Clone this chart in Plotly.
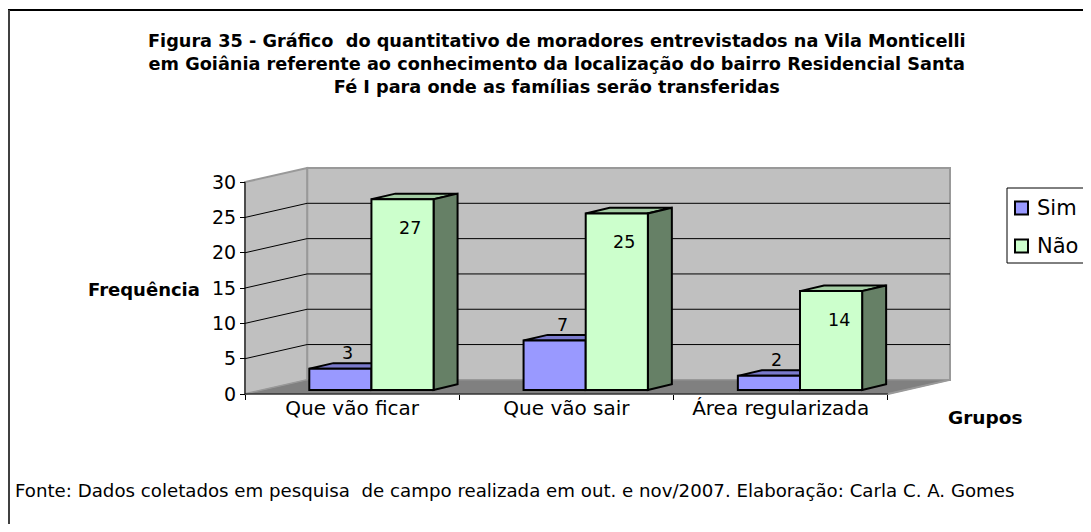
"""
Figura 35 - conhecimento da localização do Residencial Santa Fé I (gráfico de barras 3D)
"""
import plotly.graph_objects as go

# data
groups = ["Que vão ficar", "Que vão sair", "Área regularizada"]
series = ["Sim", "Não"]
sim = [3, 7, 2]
nao = [27, 25, 14]
y_ticks = [0, 5, 10, 15, 20, 25, 30]

# page pixels (the browser adds an 8px body margin around the figure)
OFF = 8
W, H = 1091 - 2 * OFF, 532 - 2 * OFF
PL, PR, PT, PB = 241, 954, 164, 398
PW, PH = PR - PL, PB - PT

# fake 3D: depth of the walls and of the bars
DX, DY = 0.29, 2.0          # wall depth (category units, value units)
YMAX = 30
BASE = 0.57                 # bars stand a little inside the floor
BDX, BDY = 0.112, 0.8       # bar depth
X0, X1 = -0.5, len(groups) - 0.5
PADX, PADY = 4 / 214.3, 4 / 7.0625

XR = [X0 - PADX, X1 + DX + PADX]
YR = [-PADY, YMAX + DY + PADY]

FONT = "DejaVu Sans, Liberation Sans, Arial, sans-serif"
WALL = "#C0C0C0"
FLOOR = "#808080"
EDGE = "#999999"
COLORS = {"Sim": "#9999FF", "Não": "#CCFFCC"}


def px(x):
    return (x - PL) / PW


def py(y):
    return (PB - y) / PH


def poly(pts):
    return "M " + " L ".join(f"{x},{y}" for x, y in pts) + " Z"


shapes = []
# back wall, side wall, floor
shapes.append(dict(type="path", layer="below", fillcolor=WALL, line=dict(color=EDGE, width=2),
                   path=poly([(X0 + DX, DY), (X1 + DX, DY), (X1 + DX, YMAX + DY), (X0 + DX, YMAX + DY)])))
shapes.append(dict(type="path", layer="below", fillcolor=WALL, line=dict(color=EDGE, width=2),
                   path=poly([(X0, 0), (X0 + DX, DY), (X0 + DX, YMAX + DY), (X0, YMAX)])))
shapes.append(dict(type="path", layer="below", fillcolor=FLOOR, line=dict(color=EDGE, width=1),
                   path=poly([(X0, 0), (X1, 0), (X1 + DX, DY), (X0 + DX, DY)])))

# gridlines on side and back wall
for v in y_ticks[1:-1]:
    shapes.append(dict(type="line", layer="below", x0=X0, y0=v, x1=X0 + DX, y1=v + DY,
                       line=dict(color="black", width=1)))
    shapes.append(dict(type="line", layer="below", x0=X0 + DX, y0=v + DY, x1=X1 + DX, y1=v + DY,
                       line=dict(color="black", width=1)))


def bar_faces(values, offset, width, top_col, side_col):
    out = []
    for i, v in enumerate(values):
        a = i + offset
        b = a + width
        t = BASE + v
        out.append(dict(type="path", layer="below", fillcolor=top_col, line=dict(color="black", width=2),
                        path=poly([(a, t), (b, t), (b + BDX, t + BDY), (a + BDX, t + BDY)])))
        out.append(dict(type="path", layer="below", fillcolor=side_col, line=dict(color="black", width=2),
                        path=poly([(b, BASE), (b + BDX, BASE + BDY), (b + BDX, t + BDY), (b, t)])))
    return out


SIM_OFF, NAO_OFF, BW = -0.2, 0.09, 0.29
shapes += bar_faces(sim, SIM_OFF, BW, "#7A7ACC", "#5C5C99")
shapes += bar_faces(nao, NAO_OFF, BW, "#A3CCA3", "#668066")

# axis lines
shapes.append(dict(type="line", layer="above", x0=X0, y0=0, x1=X0, y1=YMAX, line=dict(color="black", width=1)))
shapes.append(dict(type="line", layer="above", x0=X0, y0=0, x1=X1, y1=0, line=dict(color="black", width=1)))
shapes.append(dict(type="line", layer="below", x0=X1, y0=0, x1=X1 + DX, y1=DY, line=dict(color=EDGE, width=2)))

# frame of the original figure box (top and left only visible)
shapes.append(dict(type="line", xref="paper", yref="paper", x0=px(8), y0=py(10), x1=px(1100), y1=py(10),
                   line=dict(color="black", width=2)))
shapes.append(dict(type="line", xref="paper", yref="paper", x0=px(9), y0=py(10), x1=px(9), y1=py(540),
                   line=dict(color="#404040", width=2)))

# legend box drawn like the Excel one
shapes.append(dict(type="rect", xref="paper", yref="paper", x0=px(1007), x1=px(1088), y0=py(188), y1=py(263),
                   fillcolor="white", line=dict(color="black", width=1)))
annotations = []
for k, name in enumerate(series):
    yc = 208 + 38 * k
    shapes.append(dict(type="rect", xref="paper", yref="paper", x0=px(1015), x1=px(1028),
                       y0=py(yc - 6.5), y1=py(yc + 6.5),
                       fillcolor=COLORS[name], line=dict(color="black", width=2)))
    annotations.append(dict(xref="paper", yref="paper", x=px(1035), y=py(yc), xanchor="left", yanchor="middle",
                            text=name, showarrow=False, font=dict(size=21, color="black")))

fig = go.Figure()
fig.add_trace(go.Bar(name="Sim", x=list(range(len(groups))), y=sim, base=BASE, offset=SIM_OFF, width=BW,
                     marker=dict(color=COLORS["Sim"], line=dict(color="black", width=2))))
fig.add_trace(go.Bar(name="Não", x=list(range(len(groups))), y=nao, base=BASE, offset=NAO_OFF, width=BW,
                     marker=dict(color=COLORS["Não"], line=dict(color="black", width=2))))

for i, v in enumerate(sim):
    annotations.append(dict(x=i - 0.02, y=v + 2.8, text=str(v), showarrow=False,
                            font=dict(size=17.5, color="black")))
for i, v in enumerate(nao):
    annotations.append(dict(x=i + 0.27, y=v - 3.5, text=str(v), showarrow=False,
                            font=dict(size=17.5, color="black")))

annotations.append(dict(xref="paper", yref="paper", x=px(557), y=py(29), xanchor="center", yanchor="top",
                        text="<b>Figura 35 - Gráfico  do quantitativo de moradores entrevistados na Vila Monticelli<br>"
                             "em Goiânia referente ao conhecimento da localização do bairro Residencial Santa<br>"
                             "Fé I para onde as famílias serão transferidas</b>",
                        showarrow=False, font=dict(size=17.7, color="black")))
annotations.append(dict(xref="paper", yref="paper", x=px(202), y=py(289), xanchor="right", yanchor="middle",
                        text="<b>Frequência</b>", showarrow=False, font=dict(size=18, color="black")))
annotations.append(dict(xref="paper", yref="paper", x=px(985), y=py(417), xanchor="center", yanchor="middle",
                        text="<b>Grupos</b>", showarrow=False, font=dict(size=18.5, color="black")))
annotations.append(dict(xref="paper", yref="paper", x=px(13), y=py(490), xanchor="left", yanchor="middle",
                        text="Fonte: Dados coletados em pesquisa  de campo realizada em out. e nov/2007. "
                             "Elaboração: Carla C. A. Gomes",
                        showarrow=False, font=dict(size=18.2, color="black")))

fig.update_layout(
    width=W, height=H, autosize=False,
    margin=dict(l=PL - OFF, r=W - (PR - OFF), t=PT - OFF, b=H - (PB - OFF), pad=0, autoexpand=False),
    paper_bgcolor="white", plot_bgcolor="white",
    font=dict(family=FONT, color="black", size=19),
    barmode="overlay",
    showlegend=False,
    xaxis=dict(range=XR, tickvals=list(range(len(groups))), ticktext=groups, ticks="",
               anchor="free", position=py(394),
               minor=dict(tickvals=[X0 + k for k in range(len(groups) + 1)], ticks="outside",
                          ticklen=5, tickcolor="black", tickwidth=1),
               showgrid=False, zeroline=False, showline=False, tickfont=dict(size=20)),
    yaxis=dict(range=YR, tickvals=y_ticks, ticks="outside", ticklen=5, tickcolor="black",
               anchor="free", position=px(245),
               showgrid=False, zeroline=False, showline=False, tickfont=dict(size=19)),
    shapes=shapes,
    annotations=annotations,
)

fig.write_html("out.html")
